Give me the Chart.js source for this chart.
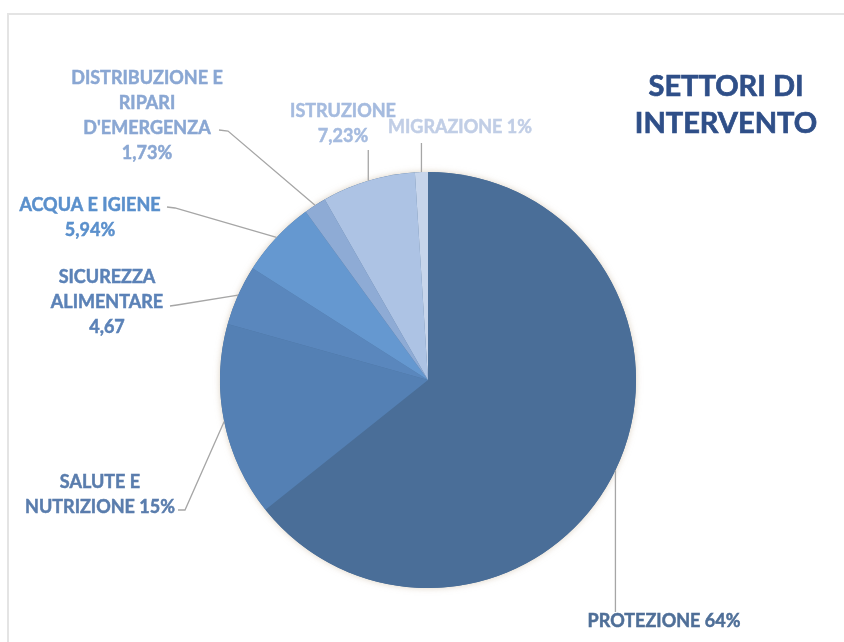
<!DOCTYPE html>
<html>
<head>
<meta charset="utf-8">
<script src="https://cdn.jsdelivr.net/npm/chart.js@4.4.1/dist/chart.umd.min.js"></script>
<style>
  html, body { margin: 0; padding: 0; background: #ffffff; }
  #wrap { width: 844px; height: 642px; position: relative; }
</style>
</head>
<body>
<div id="wrap"><canvas id="myChart"></canvas></div>
<script>
// data
const categories = ['PROTEZIONE', 'SALUTE E NUTRIZIONE', 'SICUREZZA ALIMENTARE', 'ACQUA E IGIENE',
    "DISTRIBUZIONE E RIPARI D'EMERGENZA", 'ISTRUZIONE', 'MIGRAZIONE'];
const values = [64, 15, 4.67, 5.94, 1.73, 7.23, 1];
const valueLabels = ['64%', '15%', '4,67', '5,94%', '1,73%', '7,23%', '1%'];

// how each label is broken on lines
const labelLines = [
    ['PROTEZIONE ' + valueLabels[0]],
    ['SALUTE E', 'NUTRIZIONE ' + valueLabels[1]],
    ['SICUREZZA', 'ALIMENTARE', valueLabels[2]],
    ['ACQUA E IGIENE', valueLabels[3]],
    ['DISTRIBUZIONE E', 'RIPARI', "D'EMERGENZA", valueLabels[4]],
    ['ISTRUZIONE', valueLabels[5]],
    ['MIGRAZIONE ' + valueLabels[6]]
];

const sliceColors = ['#4a6e98', '#5480b4', '#5a87bd', '#6598d0', '#8eabd5', '#adc3e4', '#c7d5eb'];
const textColors = ['#4f6f98', '#5a7dad', '#5b82b7', '#5b90cc', '#8aa7d3', '#a5bbdf', '#c1cee6'];

// label placement: text centre / first line, and leader bend points (null x = straight up/down)
const labelPlace = [
    { x: 664, y: 621, leader: [[null, 612]] },
    { x: 100, y: 482, leader: [[185, 510], [178, 510]] },
    { x: 107, y: 277, leader: [[177, 305], [170, 306]] },
    { x: 90,  y: 205, leader: [[175, 208], [167, 207]] },
    { x: 147, y: 78,  leader: [[228, 131], [219, 130]] },
    { x: 343, y: 111, leader: [[null, 150]] },
    { x: 460, y: 127, leader: [[null, 143]] }
];

const labelFont = 'bold 18px Lato';
const lineGap = 25;

const framePlugin = {
    id: 'frame',
    beforeDraw(chart) {
        const c = chart.ctx;
        c.save();
        c.strokeStyle = '#e4e4e4';
        c.lineWidth = 2;
        c.beginPath();
        c.moveTo(8, 642);
        c.lineTo(8, 14);
        c.lineTo(844, 14);
        c.stroke();
        c.restore();
    },
    beforeDatasetsDraw(chart) {
        const arc = chart.getDatasetMeta(0).data[0];
        const c = chart.ctx;
        c.save();
        c.shadowColor = 'rgba(190, 170, 140, 0.55)';
        c.shadowBlur = 6;
        c.fillStyle = '#4a6e98';
        c.beginPath();
        c.arc(arc.x, arc.y, arc.outerRadius, 0, Math.PI * 2);
        c.fill();
        c.restore();
    }
};

const labelPlugin = {
    id: 'pieLabels',
    afterDatasetsDraw(chart) {
        const c = chart.ctx;
        const arcs = chart.getDatasetMeta(0).data;
        c.save();
        // leaders
        c.strokeStyle = '#a6a6a6';
        c.lineWidth = 1.3;
        arcs.forEach((a, i) => {
            const mid = (a.startAngle + a.endAngle) / 2;
            const sx = a.x + Math.cos(mid) * a.outerRadius;
            const sy = a.y + Math.sin(mid) * a.outerRadius;
            c.beginPath();
            c.moveTo(sx, sy);
            labelPlace[i].leader.forEach(p => {
                c.lineTo(p[0] === null ? sx : p[0], p[1]);
            });
            c.stroke();
        });
        // texts
        c.font = labelFont;
        c.textAlign = 'center';
        c.textBaseline = 'middle';
        c.lineWidth = 0.5;
        labelLines.forEach((lines, i) => {
            c.fillStyle = textColors[i];
            c.strokeStyle = textColors[i];
            lines.forEach((t, k) => {
                c.fillText(t, labelPlace[i].x, labelPlace[i].y + k * lineGap);
                c.strokeText(t, labelPlace[i].x, labelPlace[i].y + k * lineGap);
            });
        });
        // title
        c.fillStyle = '#2f4f88';
        c.strokeStyle = '#2f4f88';
        c.lineWidth = 0.7;
        c.font = 'bold 29px Lato';
        c.fillText('SETTORI DI', 726, 87);
        c.strokeText('SETTORI DI', 726, 87);
        c.fillText('INTERVENTO', 726, 124);
        c.strokeText('INTERVENTO', 726, 124);
        c.restore();
    }
};

const ctx = document.getElementById('myChart').getContext('2d');
const myChart = new Chart(ctx, {
    type: 'pie',
    data: {
        labels: categories,
        datasets: [{
            data: values,
            backgroundColor: sliceColors,
            borderWidth: 0
        }]
    },
    options: {
        responsive: true,
        maintainAspectRatio: false,
        animation: false,
        layout: {
            padding: { left: 220, right: 208, top: 172, bottom: 54 }
        },
        plugins: {
            legend: { display: false },
            tooltip: { enabled: false }
        }
    },
    plugins: [framePlugin, labelPlugin]
});
</script>
</body>
</html>
